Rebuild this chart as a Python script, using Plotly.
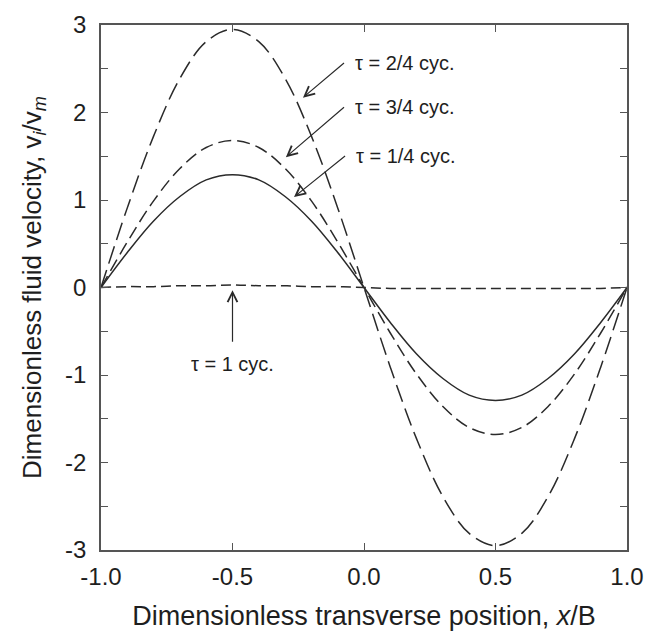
import plotly.graph_objects as go

# Dimensionless transverse position x/B
x_pos = [-1.0, -0.9, -0.8, -0.7, -0.6, -0.5, -0.4, -0.3, -0.2, -0.1, 0.0,
         0.1, 0.2, 0.3, 0.4, 0.5, 0.6, 0.7, 0.8, 0.9, 1.0]

# Dimensionless fluid velocity vi/vm
v_quarter1 = [0.0, 0.40, 0.76, 1.04, 1.23, 1.29, 1.23, 1.04, 0.76, 0.40, 0.0,
              -0.40, -0.76, -1.04, -1.23, -1.29, -1.23, -1.04, -0.76, -0.40, 0.0]
v_quarter2 = [0.0, 0.91, 1.73, 2.39, 2.81, 2.95, 2.81, 2.39, 1.73, 0.91, 0.0,
              -0.91, -1.73, -2.39, -2.81, -2.95, -2.81, -2.39, -1.73, -0.91, 0.0]
v_quarter3 = [0.0, 0.52, 0.99, 1.36, 1.60, 1.68, 1.60, 1.36, 0.99, 0.52, 0.0,
              -0.52, -0.99, -1.36, -1.60, -1.68, -1.60, -1.36, -0.99, -0.52, 0.0]
v_full = [0.0, 0.01, 0.01, 0.02, 0.02, 0.03, 0.02, 0.02, 0.01, 0.01, 0.0,
          -0.01, -0.01, -0.01, -0.01, -0.01, -0.01, -0.01, -0.01, -0.01, 0.0]

x_ticks = [-1.0, -0.5, 0.0, 0.5, 1.0]
x_ticklabels = ["-1.0", "-0.5", "0.0", "0.5", "1.0"]
y_ticks = [-3, -2, -1, 0, 1, 2, 3]
y_ticklabels = ["-3", "-2", "-1", "0", "1", "2", "3"]

labels = ["τ = 2/4 cyc.", "τ = 3/4 cyc.", "τ = 1/4 cyc.", "τ = 1 cyc."]

LINE = "#2a2a2a"
FRAME = "#555555"
TEXT = "#1e1e1e"
FONT = "Liberation Sans, Arial, sans-serif"

fig = go.Figure()
series = [
    (v_quarter1, "solid"),
    (v_quarter2, "18px,7px"),
    (v_quarter3, "13px,6px"),
    (v_full, "10px,5px"),
]
for ys, dash in series:
    fig.add_trace(go.Scatter(x=x_pos, y=ys, mode="lines",
                             line=dict(color=LINE, width=1.5, dash=dash, shape="spline"),
                             showlegend=False, hoverinfo="skip"))

# labelled arrows: head (x, y), tail (ax, ay), text anchors
arrows = [
    ((-0.232, 2.17), (-0.076, 2.566), "left", "middle"),
    ((-0.297, 1.49), (-0.076, 2.06), "left", "middle"),
    ((-0.266, 1.034), (-0.072, 1.503), "left", "middle"),
    ((-0.5, -0.03), (-0.5, -0.62), "center", "top"),
]
for ((hx, hy), (tx, ty), xa, ya), lab in zip(arrows, labels):
    fig.add_annotation(x=hx, y=hy, ax=tx, ay=ty, xref="x", yref="y",
                       axref="x", ayref="y", text=lab, showarrow=True,
                       xanchor=xa, yanchor=ya, borderpad=10,
                       arrowhead=5, arrowsize=1.6, arrowwidth=1.2,
                       arrowcolor=LINE,
                       font=dict(family=FONT, size=20, color=TEXT))

axis_common = dict(showline=True, linecolor=FRAME, linewidth=1.5, mirror="ticks",
                   ticks="inside", ticklen=7, tickwidth=1.2, tickcolor=FRAME,
                   showgrid=False, zeroline=False, automargin=False,
                   ticklabeloverflow="allow",
                   tickfont=dict(family=FONT, size=24, color=TEXT))

fig.update_xaxes(range=[-1, 1], tickvals=x_ticks, ticktext=x_ticklabels,
                 ticklabelstandoff=4,
                 title=dict(text="Dimensionless transverse position, <i>x</i>/B",
                            font=dict(family=FONT, size=27, color=TEXT),
                            standoff=20),
                 **axis_common)
fig.update_yaxes(range=[-3, 3], tickvals=y_ticks, ticktext=y_ticklabels,
                 ticklabelstandoff=8,
                 minor=dict(dtick=0.5, tick0=0, ticks="inside", ticklen=7,
                            tickcolor=FRAME, tickwidth=1.2),
                 title=dict(text="Dimensionless fluid velocity, v<sub><i>i</i></sub>/v<sub><i>m</i></sub>",
                            font=dict(family=FONT, size=26, color=TEXT),
                            standoff=16),
                 **axis_common)

fig.update_layout(width=645, height=631,
                  margin=dict(l=101, r=18, t=25, b=81),
                  paper_bgcolor="white", plot_bgcolor="white",
                  font=dict(family=FONT, color=TEXT))

# remove the default page margin so the figure fills the window exactly
fig.write_html("out.html",
               config={"displayModeBar": False},
               post_script="document.body.style.margin='0';"
                           "document.documentElement.style.overflow='hidden';")
